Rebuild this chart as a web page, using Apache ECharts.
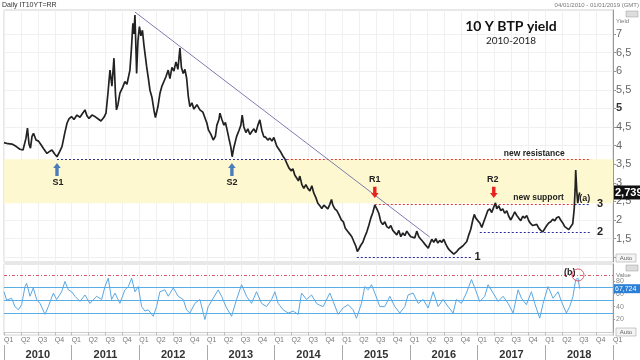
<!DOCTYPE html>
<html><head><meta charset="utf-8">
<script src="https://cdn.jsdelivr.net/npm/echarts@6/dist/echarts.min.js"></script>
<style>html,body{margin:0;padding:0;background:#fff}#c{width:640px;height:360px}</style>
</head><body><div id="c"></div>
<script>
// ---------- DATA ----------
const priceYear = [2010.000,2010.059,2010.118,2010.177,2010.236,2010.281,2010.325,2010.347,2010.369,2010.391,2010.414,2010.436,2010.473,2010.510,2010.547,2010.591,2010.635,2010.679,2010.709,2010.746,2010.783,2010.812,2010.857,2010.894,2010.931,2010.960,2010.997,2011.034,2011.078,2011.123,2011.167,2011.196,2011.226,2011.256,2011.300,2011.344,2011.388,2011.433,2011.477,2011.507,2011.536,2011.566,2011.595,2011.625,2011.647,2011.662,2011.684,2011.713,2011.750,2011.787,2011.817,2011.861,2011.883,2011.905,2011.920,2011.935,2011.950,2011.960,2011.979,2012.001,2012.024,2012.046,2012.068,2012.108,2012.134,2012.157,2012.186,2012.216,2012.238,2012.275,2012.304,2012.334,2012.363,2012.393,2012.427,2012.452,2012.482,2012.511,2012.541,2012.570,2012.600,2012.622,2012.648,2012.674,2012.699,2012.725,2012.747,2012.777,2012.806,2012.851,2012.895,2012.939,2012.969,2012.999,2013.021,2013.058,2013.092,2013.124,2013.146,2013.176,2013.191,2013.220,2013.250,2013.272,2013.294,2013.323,2013.353,2013.372,2013.397,2013.437,2013.471,2013.501,2013.520,2013.545,2013.575,2013.604,2013.634,2013.663,2013.693,2013.722,2013.752,2013.781,2013.811,2013.840,2013.870,2013.899,2013.929,2013.959,2013.988,2014.010,2014.032,2014.062,2014.092,2014.121,2014.151,2014.180,2014.210,2014.247,2014.269,2014.298,2014.328,2014.350,2014.372,2014.402,2014.431,2014.461,2014.490,2014.520,2014.549,2014.579,2014.609,2014.638,2014.668,2014.697,2014.727,2014.756,2014.786,2014.815,2014.840,2014.860,2014.889,2014.919,2014.948,2014.985,2015.015,2015.044,2015.081,2015.111,2015.140,2015.170,2015.199,2015.222,2015.244,2015.273,2015.303,2015.332,2015.362,2015.391,2015.421,2015.451,2015.480,2015.510,2015.539,2015.569,2015.598,2015.628,2015.657,2015.687,2015.716,2015.746,2015.775,2015.805,2015.835,2015.864,2015.894,2015.923,2015.953,2015.982,2016.012,2016.041,2016.071,2016.100,2016.130,2016.160,2016.189,2016.219,2016.248,2016.270,2016.292,2016.322,2016.352,2016.381,2016.411,2016.440,2016.470,2016.499,2016.529,2016.558,2016.588,2016.617,2016.647,2016.669,2016.691,2016.721,2016.750,2016.780,2016.809,2016.839,2016.869,2016.898,2016.928,2016.950,2016.972,2017.001,2017.031,2017.061,2017.090,2017.120,2017.149,2017.179,2017.208,2017.238,2017.263,2017.282,2017.312,2017.341,2017.371,2017.400,2017.430,2017.459,2017.489,2017.518,2017.548,2017.578,2017.607,2017.637,2017.666,2017.696,2017.725,2017.755,2017.784,2017.814,2017.843,2017.873,2017.903,2017.932,2017.962,2017.991,2018.021,2018.050,2018.080,2018.109,2018.139,2018.168,2018.198,2018.227,2018.257,2018.287,2018.316,2018.346,2018.375,2018.405,2018.427,2018.442,2018.449,2018.464,2018.479,2018.493,2018.508];
const priceValue = [4.08,4.05,4.04,3.98,3.90,3.88,4.20,4.47,4.05,3.93,4.25,4.33,4.15,4.12,4.02,3.90,3.79,3.85,3.88,3.78,3.70,3.80,3.97,4.30,4.60,4.72,4.78,4.70,4.82,4.76,4.88,4.96,4.80,4.73,4.82,4.78,4.72,4.66,4.76,4.87,5.40,6.03,5.60,6.35,5.40,4.96,5.10,5.41,5.55,5.72,5.65,6.03,6.60,7.29,7.00,7.51,6.60,5.94,6.80,7.20,6.95,7.10,6.70,6.12,5.80,5.49,5.30,4.95,4.75,5.05,5.40,5.60,5.55,5.85,6.03,5.80,6.10,6.00,6.25,6.05,6.62,6.10,5.94,6.05,5.81,5.30,5.05,5.15,4.98,5.10,4.96,4.90,4.75,4.60,4.42,4.30,4.15,4.25,4.55,4.70,4.87,4.70,4.55,4.62,4.45,4.20,3.95,3.70,3.95,4.24,4.40,4.55,4.82,4.50,4.35,4.45,4.30,4.38,4.45,4.35,4.55,4.69,4.40,4.24,4.22,4.15,4.20,4.12,4.22,4.18,3.98,3.90,3.82,3.72,3.64,3.52,3.40,3.32,3.38,3.20,3.12,3.05,3.18,2.95,2.85,2.95,2.85,2.78,2.92,2.72,2.60,2.45,2.38,2.31,2.40,2.36,2.30,2.42,2.55,2.40,2.30,2.25,2.15,2.00,1.95,1.78,1.69,1.62,1.55,1.42,1.30,1.15,1.22,1.32,1.40,1.55,1.68,1.85,2.05,2.20,2.40,2.30,2.18,1.95,1.88,1.95,1.82,1.78,1.85,1.72,1.68,1.60,1.72,1.55,1.65,1.58,1.70,1.62,1.55,1.60,1.52,1.70,1.55,1.48,1.42,1.35,1.30,1.24,1.35,1.48,1.40,1.50,1.38,1.45,1.40,1.48,1.35,1.25,1.18,1.15,1.08,1.05,1.15,1.22,1.20,1.30,1.33,1.42,1.60,1.75,2.00,2.15,2.05,2.10,1.92,1.80,1.95,2.10,2.25,2.30,2.20,2.35,2.46,2.30,2.38,2.25,2.30,2.18,2.25,2.10,2.00,2.10,2.22,2.12,2.05,1.98,2.10,2.05,2.12,1.98,1.90,1.85,1.80,1.88,1.78,1.72,1.68,1.72,1.85,1.92,1.95,2.02,1.98,2.06,2.09,2.00,1.92,1.82,1.78,1.74,1.76,1.90,2.30,2.90,3.34,2.80,2.45,2.63,2.739];

const rsiYear = [2010.000,2010.039,2010.113,2010.162,2010.212,2010.261,2010.310,2010.335,2010.384,2010.433,2010.483,2010.532,2010.606,2010.655,2010.729,2010.778,2010.852,2010.901,2010.950,2011.000,2011.049,2011.123,2011.196,2011.270,2011.369,2011.443,2011.492,2011.541,2011.590,2011.640,2011.713,2011.787,2011.837,2011.886,2011.935,2011.984,2012.034,2012.083,2012.132,2012.206,2012.255,2012.304,2012.378,2012.427,2012.501,2012.575,2012.649,2012.698,2012.747,2012.821,2012.895,2012.969,2013.018,2013.092,2013.166,2013.215,2013.289,2013.363,2013.437,2013.511,2013.584,2013.658,2013.732,2013.806,2013.880,2013.954,2014.003,2014.052,2014.126,2014.200,2014.274,2014.348,2014.397,2014.471,2014.545,2014.618,2014.668,2014.717,2014.815,2014.865,2014.938,2015.012,2015.086,2015.160,2015.209,2015.283,2015.332,2015.382,2015.431,2015.480,2015.554,2015.628,2015.702,2015.775,2015.849,2015.923,2015.972,2016.046,2016.120,2016.194,2016.268,2016.342,2016.416,2016.489,2016.563,2016.637,2016.686,2016.760,2016.834,2016.908,2016.957,2017.031,2017.105,2017.154,2017.228,2017.302,2017.376,2017.450,2017.524,2017.597,2017.647,2017.720,2017.794,2017.843,2017.917,2017.967,2018.040,2018.114,2018.188,2018.237,2018.311,2018.360,2018.409,2018.449,2018.483,2018.508];
const rsiValue = [63,50,53,40,35,43,71,76,56,69,51,45,28,40,61,51,63,79,66,63,56,48,58,45,56,51,71,84,51,61,45,66,71,84,63,71,40,33,35,25,40,63,66,56,69,56,51,35,30,45,51,20,40,53,66,56,38,25,51,74,56,45,63,45,40,51,63,45,35,30,33,28,61,51,58,45,42,40,61,48,28,38,43,35,22,45,71,66,74,61,40,40,56,40,30,40,58,61,45,51,38,63,40,51,40,30,51,45,61,82,69,48,56,74,61,48,56,45,30,66,53,43,63,45,22,45,71,53,63,48,30,40,56,82,84,67.724];

const yearLabels = ['2010','2011','2012','2013','2014','2015','2016','2017','2018'];
const yieldTickLabels = [1.5,2,2.5,3,3.5,4,4.5,5,5.5,6,6.5,7];
const yieldGridValues = [1,1.5,2,2.5,3,3.5,4,4.5,5,5.5,6,6.5,7];
const rsiTickLabels = [20,40,60,80];
const rsiBands = [70,50,30];
const rsiAlert = 88;

// reference levels drawn on the chart (yield values)
const resistanceLevel = 3.63;
const supportLevel = 2.45;
const newSupportLevel = 2.43;
const level2 = 1.68;
const level1 = 1.0;
const trendFrom = [2011.935, 7.59];
const trendTo = [2016.292, 1.54];

// ---------- CHART ----------
const chart = echarts.init(document.getElementById('c'));
const priceData = priceYear.map((t, i) => [t, priceValue[i]]);
const rsiData = rsiYear.map((t, i) => [t, rsiValue[i]]);
const X0 = 2010, X1 = 2019;
const BLUE_D = '#2e2e9e', RED_D = '#e0383a';
const FONT = 'Liberation Sans';

function seg(a, b, color, type) {
  return [{coord: a, lineStyle: {color: color, type: type || [2, 2], width: 1}}, {coord: b}];
}

const option = {
  animation: false,
  textStyle: {fontFamily: FONT},
  grid: [
    {left: 4, right: 27, top: 10, height: 252, show: true, borderColor: '#d0d0d0', borderWidth: 1},
    {left: 4, right: 27, top: 264, height: 71, show: true, borderColor: '#d0d0d0', borderWidth: 1},
    {left: 4, right: 27, top: 344, height: 1}
  ],
  xAxis: [
    {gridIndex: 0, type: 'value', min: X0, max: X1, interval: 0.25,
     axisLabel: {show: false}, axisTick: {show: false}, axisLine: {show: false},
     splitLine: {show: true, lineStyle: {color: '#f0f0f0'}}},
    {gridIndex: 1, type: 'value', min: X0, max: X1, interval: 0.25,
     axisLabel: {formatter: v => 'Q' + (Math.round((v - Math.floor(v)) * 4) + 1), fontSize: 7, color: '#777', align: 'left', margin: 2, showMaxLabel: true},
     axisTick: {show: true, length: 3, lineStyle: {color: '#bbb'}},
     axisLine: {show: true, lineStyle: {color: '#ccc'}},
     splitLine: {show: true, lineStyle: {color: '#f0f0f0'}}},
    {gridIndex: 2, type: 'category', data: yearLabels, boundaryGap: true,
     axisLine: {show: false},
     axisTick: {show: true, interval: 0, length: 16, lineStyle: {color: '#aaa'}},
     axisLabel: {interval: 0, fontSize: 11, fontWeight: 'bold', color: '#333', margin: 4}}
  ],
  yAxis: [
    {gridIndex: 0, type: 'value', position: 'right', min: 0.87, max: 7.645,
     axisLine: {show: true, lineStyle: {color: '#999'}},
     axisTick: {show: true, length: 3, customValues: yieldGridValues, lineStyle: {color: '#999'}},
     axisLabel: {customValues: yieldTickLabels, margin: 3, fontSize: 11, color: '#666', fontFamily: FONT,
       formatter: v => v === 5 ? '{b|5}' : String(v).replace('.', ','),
       rich: {b: {fontWeight: 'bold', color: '#333', fontSize: 11}}},
     splitLine: {show: true, lineStyle: {color: '#f0f0f0'}}},
    {gridIndex: 1, type: 'value', position: 'right', min: -4, max: 106,
     axisLine: {show: true, lineStyle: {color: '#999'}},
     axisTick: {show: true, length: 2, customValues: rsiTickLabels, lineStyle: {color: '#999'}},
     axisLabel: {customValues: rsiTickLabels, margin: 3, fontSize: 7, color: '#888'},
     splitLine: {show: false}},
    {gridIndex: 2, type: 'value', show: false}
  ],
  series: [
    {type: 'line', name: 'yield', xAxisIndex: 0, yAxisIndex: 0, data: priceData,
     showSymbol: false, symbol: 'none', lineStyle: {color: '#222', width: 1.7}, z: 5,
     markArea: {silent: true, itemStyle: {color: '#fdf8cf'},
       data: [[{coord: [X0, resistanceLevel]}, {coord: [X1, supportLevel]}]]},
     markLine: {silent: true, symbol: 'none', label: {show: false},
       data: [
         seg([2010.783, resistanceLevel], [2014.18, resistanceLevel], BLUE_D),
         seg([2014.18, resistanceLevel], [2018.656, resistanceLevel], RED_D),
         seg([2015.48, newSupportLevel], [2018.434, newSupportLevel], RED_D),
         seg([2018.434, newSupportLevel], [2018.656, newSupportLevel], BLUE_D),
         seg([2017.031, level2], [2018.656, level2], BLUE_D),
         seg([2015.214, level1], [2016.913, level1], BLUE_D),
         seg(trendFrom, trendTo, '#7c7cb0', 'solid')
       ]}},
    {type: 'line', name: 'rsi', xAxisIndex: 1, yAxisIndex: 1, data: rsiData,
     showSymbol: false, symbol: 'none', lineStyle: {color: '#5aa7e3', width: 1}, z: 5,
     markLine: {silent: true, symbol: 'none', label: {show: false},
       data: rsiBands.map(v => ({yAxis: v, lineStyle: {color: '#5aaee6', type: 'solid', width: 1}}))
         .concat([{yAxis: rsiAlert, lineStyle: {color: '#d85a6a', type: [3, 2, 1, 2], width: 1}}])}}
  ]
};
chart.setOption(option);

// ---------- ANNOTATIONS (anchored to data coordinates) ----------
const P = c => chart.convertToPixel({xAxisIndex: 0, yAxisIndex: 0}, c);
const R = c => chart.convertToPixel({xAxisIndex: 1, yAxisIndex: 1}, c);
const g = [];
function txt(p, s, st, z) {
  g.push({type: 'text', x: p[0], y: p[1], z: z || 50,
    style: Object.assign({text: s, align: 'center', verticalAlign: 'middle', fontFamily: FONT,
      fontWeight: 'bold', fontSize: 9, fill: '#222'}, st || {})});
}
function arrow(tip, base, color) {
  const x = tip[0], yt = tip[1], yb = base[1];
  const d = yb > yt ? 1 : -1, h = 5 * d;
  g.push({type: 'polygon', z: 50, shape: {points: [[x, yt], [x + 3.8, yt + h], [x + 1.7, yt + h], [x + 1.7, yb], [x - 1.7, yb], [x - 1.7, yt + h], [x - 3.8, yt + h]]},
    style: {fill: color}});
}
arrow(P([2010.783, 3.53]), P([2010.783, 3.18]), '#4a7ebb');
arrow(P([2013.368, 3.53]), P([2013.368, 3.18]), '#4a7ebb');
txt(P([2010.798, 3.02]), 'S1');
txt(P([2013.368, 3.02]), 'S2');
arrow(P([2015.48, 2.59]), P([2015.48, 2.89]), '#e8231f');
arrow(P([2017.238, 2.59]), P([2017.238, 2.89]), '#e8231f');
txt(P([2015.48, 3.075]), 'R1');
txt(P([2017.223, 3.075]), 'R2');
txt(P([2017.836, 3.77]), 'new resistance', {fontSize: 8.5});
txt(P([2017.90, 2.59]), 'new support', {fontSize: 8.5});
txt(P([2018.582, 2.59]), '(a)', {fontSize: 9});
txt(P([2018.81, newSupportLevel]), '3', {fontSize: 11});
txt(P([2018.81, level2]), '2', {fontSize: 11});
txt(P([2016.997, level1]), '1', {fontSize: 11});
txt(R([2018.36, 93]), '(b)', {fontSize: 9});
const cc = R([2018.483, 89]);
g.push({type: 'circle', z: 50, shape: {cx: cc[0], cy: cc[1], r: 6}, style: {fill: 'none', stroke: '#d85a6a', lineWidth: 1}});

// last-value boxes
const lastP = P([X1, priceValue[priceValue.length - 1]]);
g.push({type: 'rect', z: 60, shape: {x: lastP[0] + 1, y: lastP[1] - 7, width: 30, height: 14}, style: {fill: '#111'}});
txt([lastP[0] + 2, lastP[1]], String(priceValue[priceValue.length - 1]).replace('.', ','), {align: 'left', fill: '#fff', fontSize: 11}, 70);
const lastR = R([X1, rsiValue[rsiValue.length - 1]]);
g.push({type: 'rect', z: 60, shape: {x: lastR[0] + 1, y: lastR[1] - 4.5, width: 30, height: 9}, style: {fill: '#2a7fd6'}});
txt([lastR[0] + 2, lastR[1]], String(rsiValue[rsiValue.length - 1]).replace('.', ','), {align: 'left', fill: '#fff', fontSize: 7, fontWeight: 'normal'}, 70);

// titles and chrome text
txt([511, 26], '10 Y BTP yield', {fontFamily: 'Lato', fontSize: 14, fill: '#111'});
txt([511, 41], '2010-2018', {fontFamily: 'Lato', fontSize: 10, fontWeight: 'normal', fill: '#222'});
txt([2, 5], 'Daily IT10YT=RR', {align: 'left', fontSize: 7, fontWeight: 'normal', fill: '#333'});
txt([639, 5], '04/01/2010 - 01/01/2019 (GMT)', {align: 'right', fontSize: 6, fontWeight: 'normal', fill: '#777'});
txt([616, 21], 'Yield', {align: 'left', fontSize: 6, fontWeight: 'normal', fill: '#777'});
txt([616, 275], 'Value', {align: 'left', fontSize: 6, fontWeight: 'normal', fill: '#777'});
[258, 332].forEach(y => {
  g.push({type: 'rect', z: 50, shape: {x: 616, y: y - 4, width: 20, height: 8}, style: {fill: '#f4f4f4', stroke: '#aaa', lineWidth: 0.6}});
  txt([626, y], 'Auto', {fontSize: 6, fontWeight: 'normal', fill: '#666'}, 55);
});
[14, 268].forEach(y => {
  g.push({type: 'rect', z: 50, shape: {x: 626, y: y - 3, width: 12, height: 6}, style: {fill: '#ddd', stroke: '#999', lineWidth: 0.5}});
});
chart.setOption({graphic: {elements: g}});
</script>
</body></html>
